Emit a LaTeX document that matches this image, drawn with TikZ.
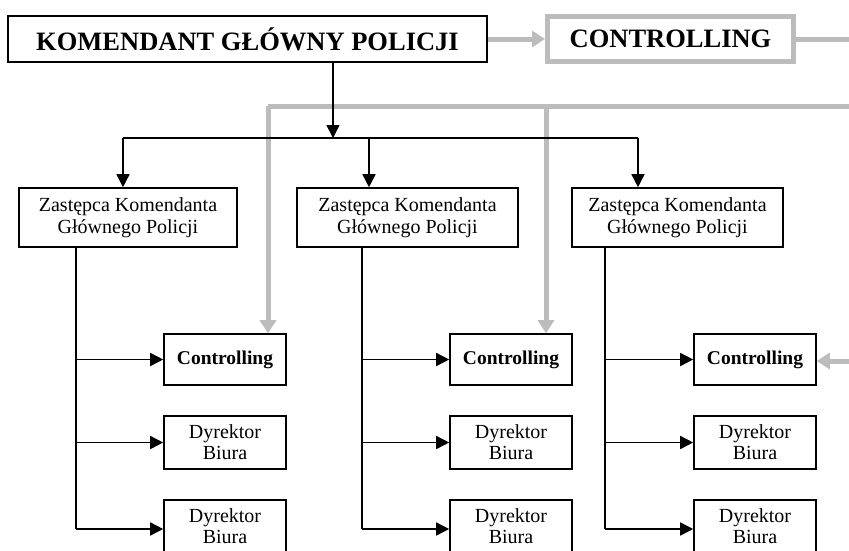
\documentclass[tikz,border=0pt]{standalone}
\usepackage{fontspec}
\setmainfont{Liberation Serif}
\usetikzlibrary{arrows.meta}
\definecolor{gry}{RGB}{188,188,188}
\begin{document}
\begin{tikzpicture}[x=1pt,y=-1pt,
  bx/.style={draw=black,line width=1.6pt,fill=white,inner sep=0pt,align=center},
  gbox/.style={draw=gry,line width=5pt,fill=white,inner sep=0pt,align=center},
  big/.style={font=\fontsize{26.5}{30}\selectfont\bfseries},
  zfont/.style={font=\fontsize{20}{22}\selectfont},
  cfont/.style={font=\fontsize{19.5}{22}\selectfont\bfseries},
  dfont/.style={font=\fontsize{20}{21}\selectfont},
  blk/.style={draw=black,line width=1.6pt},
  blkarr/.style={blk,-{Triangle[length=13pt,width=13pt]}},
  gline/.style={draw=gry,line width=5pt},
  garr/.style={gline,-{Triangle[length=13pt,width=16pt]}}]
\clip (0,0) rectangle (849,550);
\useasboundingbox (0,0) rectangle (849,550);
\fill[white] (0,0) rectangle (849,550);

% top row
\node[bx,big,minimum width=479pt,minimum height=46pt] (kgp) at (247.5,39) {KOMENDANT GŁÓWNY POLICJI};
\node[gbox,big,minimum width=246pt,minimum height=45pt] (ctl) at (670.5,39) {CONTROLLING};
\coordinate (redge) at (849,39);

% deputies
\node[bx,zfont,minimum width=218pt,minimum height=59pt] (z1) at (128,217.5) {Zastępca Komendanta\\Głównego Policji};
\node[bx,zfont,minimum width=221pt,minimum height=59pt] (z2) at (407.5,217.5) {Zastępca Komendanta\\Głównego Policji};
\node[bx,zfont,minimum width=211pt,minimum height=59pt] (z3) at (677.5,217.5) {Zastępca Komendanta\\Głównego Policji};

% small boxes
\foreach \n/\cx in {1/225,2/511,3/755}{
  \node[bx,cfont,minimum width=122pt,minimum height=51pt] (c\n) at (\cx,359.5) {Controlling};
  \node[bx,dfont,minimum width=122pt,minimum height=53pt] (da\n) at (\cx,442.5) {Dyrektor\\Biura};
  \node[bx,dfont,minimum width=122pt,minimum height=53pt] (db\n) at (\cx,526.5) {Dyrektor\\Biura};
}

% coordinates
\coordinate (bk) at (333,138);
\coordinate (b1) at (123,138);
\coordinate (b2) at (369,138);
\coordinate (b3) at (638,138);
\coordinate (v1) at (76,529);
\coordinate (v2) at (362,529);
\coordinate (v3) at (605,529);
\coordinate (g1) at (268,106);
\coordinate (g2) at (546,106);
\coordinate (gr) at (849,106);
\coordinate (gc) at (849,361);

% grey connectors
\draw[garr] (kgp.east) -- (ctl.west);
\draw[gline] (ctl.east) -- (redge);
\draw[gline] (gr) -- (g1);
\draw[garr] (g1) -- (g1 |- c1.north);
\draw[garr] (g2) -- (g2 |- c2.north);
\draw[garr] (gc) -- (c3.east |- gc);

% black connectors
\draw[blkarr] (bk |- kgp.south) -- (bk);
\draw[blk] (b1) -- (b3);
\draw[blkarr] (b1) -- (b1 |- z1.north);
\draw[blkarr] (b2) -- (b2 |- z2.north);
\draw[blkarr] (b3) -- (b3 |- z3.north);

\foreach \n in {1,2,3}{
  \draw[blk] (v\n |- z\n.south) -- (v\n);
  \draw[blkarr] (v\n |- c\n.west) -- (c\n.west);
  \draw[blkarr] (v\n |- da\n.west) -- (da\n.west);
  \draw[blkarr] (v\n) -- (v\n -| db\n.west);
}
\end{tikzpicture}
\end{document}
